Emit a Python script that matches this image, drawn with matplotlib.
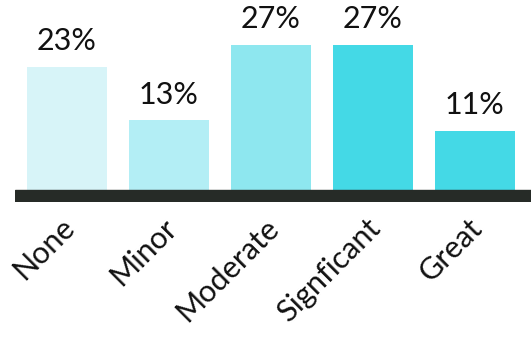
import matplotlib.pyplot as plt
import matplotlib.transforms as mtransforms

# survey answers and their shares
categories = ['None', 'Minor', 'Moderate', 'Signficant', 'Great']
shares = [23, 13, 27, 27, 11]
colors = ['#d7f4f8', '#b3eef5', '#8ee7ef', '#44d9e6', '#44d9e6']

plt.rcParams['font.family'] = ['Lato', 'DejaVu Sans']

fig = plt.figure(figsize=(5.31, 3.37), dpi=100)
ax = fig.add_axes([15 / 531, 135 / 337, 516 / 531, 202 / 337])

x = range(len(categories))
bars = ax.bar(x, shares, width=0.78, color=colors)

# thick dark base under the bars
ax.axhspan(-2.23, 0, color='#262b27', zorder=3)

for b, v in zip(bars, shares):
    ax.annotate(f'{v}%', (b.get_x() + b.get_width() / 2, v),
                xytext=(0, 12), textcoords='offset points',
                ha='center', va='baseline', fontsize=22, color='#111111')

ax.set_xlim(-0.51, 4.55)
ax.set_ylim(-2.23, 35.4)
ax.set_xticks(list(x))
ax.set_xticklabels(categories, rotation=45, ha='right', rotation_mode='anchor',
                   fontsize=22, color='#111111')
ax.tick_params(axis='x', length=0, pad=8)
shift = mtransforms.ScaledTranslation(-7 / 100, 0, fig.dpi_scale_trans)
for lbl in ax.get_xticklabels():
    lbl.set_transform(lbl.get_transform() + shift)
ax.set_yticks([])
for s in ax.spines.values():
    s.set_visible(False)

fig.savefig('out.png', dpi=100)
